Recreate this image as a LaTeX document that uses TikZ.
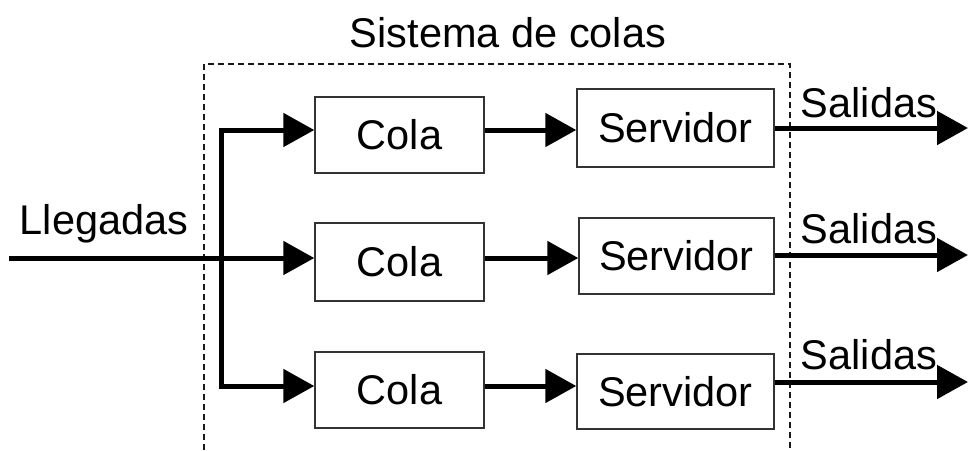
\documentclass[tikz,border=0pt]{standalone}
\usepackage{fontspec}
\setmainfont{Liberation Sans}
\usetikzlibrary{arrows.meta}
\begin{document}
\begin{tikzpicture}[x=1pt,y=-1pt,
  box/.style={draw=black!80,line width=1.4pt,inner sep=0pt,font=\fontsize{41.5}{48}\selectfont},
  lbl/.style={inner sep=0pt,anchor=base,font=\fontsize{41.5}{48}\selectfont},
  flow/.style={line width=5pt,line join=miter,-{Triangle[length=31pt,width=33pt]}},
  flow2/.style={line width=5pt,line join=miter,{Triangle[length=31pt,width=33pt]}-{Triangle[length=31pt,width=33pt]}},
  sys/.style={draw=black!90,line width=1.1pt,dash pattern=on 6pt off 4pt}]
\useasboundingbox (0,0) rectangle (968,450);
% dashed system outline (open at bottom)
\coordinate (s1) at (204,450);
\coordinate (s2) at (204,64);
\coordinate (s3) at (790,64);
\coordinate (s4) at (790,450);
\draw[sys] (s1) -- (s2) -- (s3) -- (s4);
\node[lbl] (title) at (508,47) {Sistema de colas};
% boxes
\node[box,minimum width=169pt,minimum height=76pt] (cola1) at (399.5,135) {Cola};
\node[box,minimum width=197pt,minimum height=78pt] (serv1) at (675.5,128) {Servidor};
\node[box,minimum width=169pt,minimum height=78pt] (cola2) at (399.5,262) {Cola};
\node[box,minimum width=195pt,minimum height=76pt] (serv2) at (676.5,256) {Servidor};
\node[box,minimum width=169pt,minimum height=76pt] (cola3) at (399.5,390) {Cola};
\node[box,minimum width=197pt,minimum height=75pt] (serv3) at (675.5,391.5) {Servidor};
% routing coordinates
\coordinate (r1) at (221,130);
\coordinate (r2) at (221,258);
\coordinate (r3) at (221,386);
\coordinate (in) at (9,258);
\coordinate (o1) at (968,128);
\coordinate (o2) at (968,255);
\coordinate (o3) at (968,382);
% arrivals
\draw[flow] (in) -- (r2 -| cola2.west);
\draw[flow2] (r1 -| cola1.west) -- (r1) -- (r3) -- (r3 -| cola3.west);
\node[lbl] (lleg) at (104,234) {Llegadas};
% queue -> server
\draw[flow] (cola1.east |- r1) -- (serv1.west |- r1);
\draw[flow] (cola2.east |- r2) -- (serv2.west |- r2);
\draw[flow] (cola3.east |- r3) -- (serv3.west |- r3);
% outputs
\draw[flow] (serv1.east |- o1) -- (o1);
\draw[flow] (serv2.east |- o2) -- (o2);
\draw[flow] (serv3.east |- o3) -- (o3);
\node[lbl] (sal1) at (869,117) {Salidas};
\node[lbl] (sal2) at (869,243) {Salidas};
\node[lbl] (sal3) at (869,369) {Salidas};
\end{tikzpicture}
\end{document}
